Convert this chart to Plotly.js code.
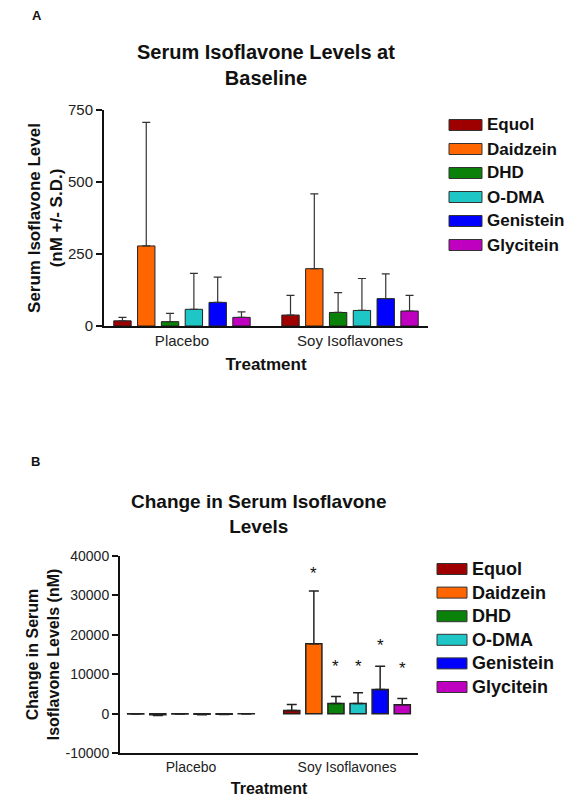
<!DOCTYPE html>
<html>
<head>
<meta charset="utf-8">
<script src="https://cdn.plot.ly/plotly-3.0.1.min.js"></script>
<style>
  html, body { margin: 0; padding: 0; background: #fff; }
  #chart { width: 580px; height: 806px; }
</style>
</head>
<body>
<div id="chart"></div>
<script>
// ---------- data ----------
const categories = ['Placebo', 'Soy Isoflavones'];
const compounds = ['Equol', 'Daidzein', 'DHD', 'O-DMA', 'Genistein', 'Glycitein'];
const colors = ['#9e0000', '#ff6600', '#0a820a', '#1ec6c6', '#0000ff', '#c000c0'];

// Panel A: baseline serum levels (nM), mean and S.D.
const baselinePlacebo   = [18, 278, 15, 58, 82, 30];
const baselinePlaceboSD = [12, 429, 29, 125, 88, 19];
const baselineSoy       = [38, 199, 47, 54, 95, 52];
const baselineSoySD     = [68, 260, 69, 111, 86, 54];

// Panel B: change in serum levels (nM), mean and S.D.
const changePlacebo   = [-40, -220, -30, -110, -90, -20];
const changePlaceboSD = [40, 200, 40, 120, 110, 30];
const changeSoy       = [840, 17730, 2600, 2600, 6130, 2270];
const changeSoySD     = [1510, 13360, 1770, 2690, 5890, 1600];
// significance markers (*) above soy bars
const starSoyY = [null, 35400, 11850, 11850, 17300, 11340];

const ticksA = [0, 250, 500, 750];
const ticksALabels = ['0', '250', '500', '750'];
const ticksB = [-10000, 0, 10000, 20000, 30000, 40000];
const ticksBLabels = ['-10000', '0', '10000', '20000', '30000', '40000'];

// ---------- layout helpers ----------
const W = 580, H = 806;
const px = x => x / W;
const py = y => 1 - y / H;
const FONT = 'Liberation Sans, Arial, Helvetica, sans-serif';
const BARGAP = 0.15, GROUPGAP = 0.27;

const traces = [];
compounds.forEach((name, i) => {
  const a = [baselinePlacebo[i], baselineSoy[i]];
  const aSD = [baselinePlaceboSD[i], baselineSoySD[i]];
  traces.push({
    type: 'bar', name: name, x: categories, y: a,
    xaxis: 'x', yaxis: 'y', showlegend: false,
    marker: { color: colors[i], line: { color: '#222', width: 1 } },
    error_y: { type: 'data', symmetric: false,
      array: a.map((v, k) => v >= 0 ? aSD[k] : 0),
      arrayminus: a.map((v, k) => v < 0 ? aSD[k] : 0),
      color: '#333', thickness: 1.2, width: 4 }
  });
});
compounds.forEach((name, i) => {
  const b = [changePlacebo[i], changeSoy[i]];
  const bSD = [changePlaceboSD[i], changeSoySD[i]];
  traces.push({
    type: 'bar', name: name, x: categories, y: b,
    xaxis: 'x2', yaxis: 'y2', showlegend: false,
    marker: { color: colors[i], line: { color: '#222', width: 1.5 } },
    error_y: { type: 'data', symmetric: false,
      array: b.map((v, k) => v >= 0 ? bSD[k] : 0),
      arrayminus: b.map((v, k) => v < 0 ? bSD[k] : 0),
      color: '#222', thickness: 1.5, width: 5 }
  });
});

const annotations = [];
const shapes = [];
function txt(x, y, text, size, extra) {
  annotations.push(Object.assign({
    xref: 'paper', yref: 'paper', x: px(x), y: py(y), text: text,
    showarrow: false, font: { family: FONT, size: size, color: '#111' },
    xanchor: 'center', yanchor: 'middle'
  }, extra || {}));
}
// panel letters
txt(37, 15, '<b>A</b>', 13);
txt(35, 461, '<b>B</b>', 13);
// titles
txt(266, 65, '<b>Serum Isoflavone Levels at<br>Baseline</b>', 20);
txt(259, 514, '<b>Change in Serum Isoflavone<br>Levels</b>', 19);

// stars above soy bars in panel B
const slot = (1 - BARGAP) / compounds.length;
compounds.forEach((name, i) => {
  if (starSoyY[i] == null) return;
  annotations.push({
    xref: 'x2', yref: 'y2', x: 1 + (i - (compounds.length - 1) / 2) * slot,
    y: starSoyY[i], text: '*', showarrow: false,
    font: { family: FONT, size: 17, color: '#111' }, yanchor: 'middle', xanchor: 'center'
  });
});

// custom legends
function legend(x0, x1, textX, y0, step, size) {
  compounds.forEach((name, i) => {
    const yc = y0 + i * step;
    shapes.push({ type: 'rect', xref: 'paper', yref: 'paper',
      x0: px(x0), x1: px(x1), y0: py(yc - 5.5), y1: py(yc + 5.5),
      fillcolor: colors[i], line: { color: '#333', width: 1 } });
    txt(textX, yc, '<b>' + name + '</b>', size, { xanchor: 'left' });
  });
}
legend(449, 482, 485, 125, 24, 17);
legend(437, 467, 470, 569, 23.6, 18);

const axisCommon = {
  showline: true, linecolor: '#111', linewidth: 2, showgrid: false, zeroline: false,
  color: '#222'
};

const layout = {
  width: W, height: H, margin: { l: 0, r: 0, t: 0, b: 0 },
  paper_bgcolor: '#fff', plot_bgcolor: '#fff',
  barmode: 'group', bargap: BARGAP, bargroupgap: GROUPGAP,
  showlegend: false,
  font: { family: FONT, color: '#222' },
  xaxis: Object.assign({}, axisCommon, {
    domain: [px(104), px(428)], anchor: 'y', type: 'category',
    range: [-0.464, 1.464], ticks: '',
    tickfont: { family: FONT, size: 15, color: '#222' },
    title: { text: '<b>Treatment</b>', font: { family: FONT, size: 17, color: '#111' }, standoff: 10 }
  }),
  yaxis: Object.assign({}, axisCommon, {
    domain: [py(326), py(110)], anchor: 'x', range: [0, 750],
    tickvals: ticksA, ticktext: ticksALabels,
    ticks: 'outside', ticklen: 6, tickwidth: 2, tickcolor: '#111',
    tickfont: { family: FONT, size: 15, color: '#222' },
    title: { text: '<b>Serum Isoflavone Level<br>(nM +/- S.D.)</b>', font: { family: FONT, size: 17, color: '#111' }, standoff: 1 }
  }),
  xaxis2: Object.assign({}, axisCommon, {
    domain: [px(120), px(418)], anchor: 'y2', type: 'category',
    range: [-0.455, 1.455], ticks: '',
    tickfont: { family: FONT, size: 14, color: '#222' },
    title: { text: '<b>Treatment</b>', font: { family: FONT, size: 16, color: '#111' }, standoff: 9 }
  }),
  yaxis2: Object.assign({}, axisCommon, {
    domain: [py(753.3), py(555.7)], anchor: 'x2', range: [-10000, 40000],
    tickvals: ticksB, ticktext: ticksBLabels,
    ticks: 'outside', ticklen: 6, tickwidth: 2, tickcolor: '#111',
    tickfont: { family: FONT, size: 14, color: '#222' },
    title: { text: '<b>Change in Serum<br>Isoflavone Levels (nM)</b>', font: { family: FONT, size: 16, color: '#111' }, standoff: 2 }
  }),
  annotations: annotations,
  shapes: shapes
};

Plotly.newPlot('chart', traces, layout, { staticPlot: true, displayModeBar: false });
</script>
</body>
</html>
